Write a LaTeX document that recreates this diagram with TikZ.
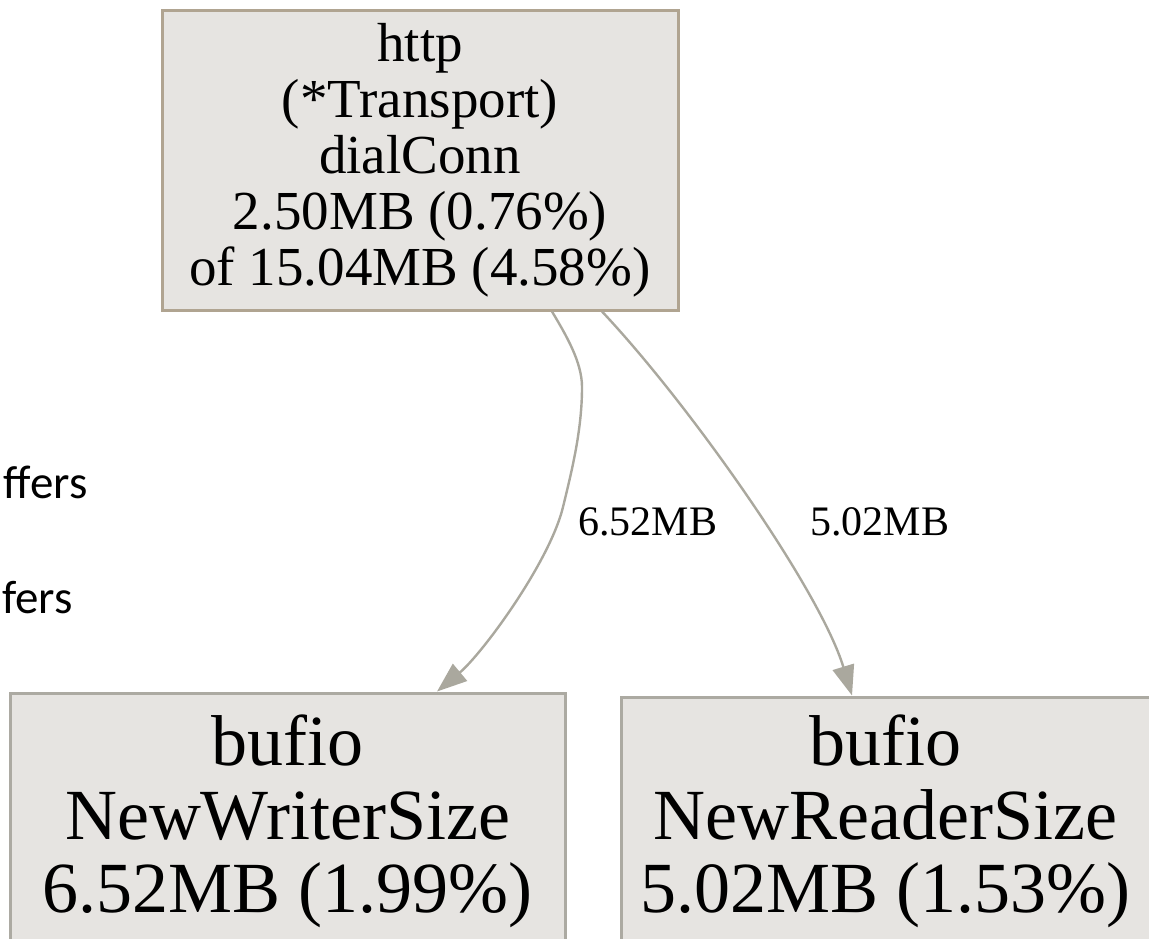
\documentclass[tikz,border=0pt]{standalone}
\usepackage{fontspec}
\setmainfont{Liberation Serif}
\newfontfamily\legendfont{Carlito}
\usetikzlibrary{arrows.meta}
\definecolor{boxfill}{RGB}{230,228,225}
\definecolor{topline}{RGB}{176,164,145}
\definecolor{boxline}{RGB}{172,170,162}
\definecolor{edgeline}{RGB}{170,168,158}
\begin{document}
\begin{tikzpicture}[x=0.5pt, y=-0.5pt,
            fnode/.style={rectangle, draw=boxline, fill=boxfill, line width=1.5pt, align=center, inner sep=0pt},
            flow/.style={draw=edgeline, line width=1.2pt, -{Triangle[length=15pt, width=11pt]}},
            flowlabel/.style={anchor=base west, inner sep=0pt, font=\fontsize{21}{21}\selectfont},
            legendtext/.style={anchor=base east, inner sep=0pt, font=\legendfont\fontsize{23.5}{24}\selectfont}]
            \useasboundingbox (0,0) rectangle (1149,938);

            \node[fnode, draw=topline, minimum width=258pt, minimum height=150pt, font=\fontsize{27.5}{28}\selectfont] (http) at (420,160)
                {http\\(*Transport)\\dialConn\\2.50MB (0.76\%)\\of 15.04MB (4.58\%)};
            \node[fnode, minimum width=277.5pt, minimum height=128.5pt, font=\fontsize{36}{36.75}\selectfont] (wsize) at (287.5,821.5)
                {bufio\\NewWriterSize\\6.52MB (1.99\%)};
            \node[fnode, minimum width=264.5pt, minimum height=124.5pt, font=\fontsize{36}{36.75}\selectfont] (rsize) at (885.5,821.5)
                {bufio\\NewReaderSize\\5.02MB (1.53\%)};

            \node[legendtext] (legendone) at (88,498) {ffers};
            \node[legendtext] (legendtwo) at (73,613) {fers};

            \draw[flow] ([xshift=66pt]http.south)
                .. controls (566,335) and (582,362) .. (582,387)
                .. controls (582,430) and (572,470) .. (563,507)
                .. controls (549.5,562.5) and (482,654) .. ([xshift=74.75pt]wsize.north);
            \draw[flow] ([xshift=91pt]http.south)
                .. controls (690,405) and (820,590) .. ([xshift=-16.75pt]rsize.north);
            \node[flowlabel] (wlabel) at (578,535) {6.52MB};
            \node[flowlabel] (rlabel) at (810,535) {5.02MB};
    \end{tikzpicture}
\end{document}
